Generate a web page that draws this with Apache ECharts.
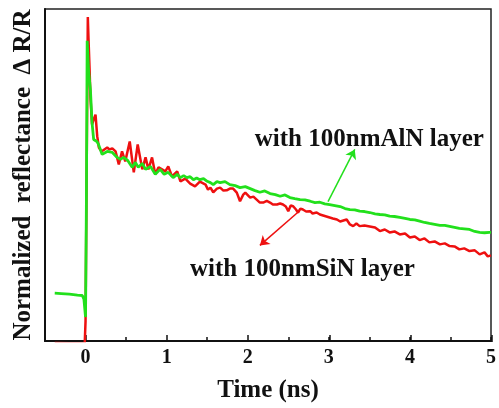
<!DOCTYPE html>
<html>
<head>
<meta charset="utf-8">
<script src="https://cdn.jsdelivr.net/npm/echarts@6/dist/echarts.min.js"></script>
<style>
  html, body { margin: 0; padding: 0; background: #fff; }
  #chart { width: 499px; height: 408px; }
</style>
</head>
<body>
<div id="chart"></div>
<script>
// Transient reflectance traces (normalized ΔR/R) versus delay time in ns
const sinTime = [-0.38,-0.20,-0.01,0.00,0.028,0.037,0.05,0.06,0.08,0.10,0.123,0.144,0.164,0.197,0.22,0.267,0.295,0.33,0.37,0.41,0.45,0.49,0.545,0.595,0.643,0.70,0.74,0.775,0.82,0.86,0.90,0.943,0.984,1.02,1.066,1.13,1.17,1.23,1.29,1.35,1.41,1.48,1.51,1.54,1.575,1.62,1.66,1.70,1.74,1.78,1.82,1.865,1.905,1.945,1.97,2.03,2.07,2.11,2.15,2.19,2.235,2.275,2.31,2.36,2.40,2.435,2.47,2.50,2.53,2.56,2.595,2.62,2.65,2.68,2.72,2.77,2.80,2.85,2.89,2.93,2.97,3.01,3.05,3.10,3.14,3.16,3.22,3.26,3.30,3.34,3.38,3.44,3.505,3.57,3.63,3.69,3.75,3.81,3.875,3.94,4.00,4.06,4.12,4.18,4.24,4.305,4.37,4.43,4.49,4.55,4.61,4.67,4.735,4.80,4.86,4.92,4.96,5.00];
const sinValue = [-0.006,-0.007,-0.006,0.060,0.976,0.907,0.817,0.736,0.652,0.667,0.682,0.617,0.583,0.571,0.571,0.583,0.577,0.580,0.571,0.532,0.571,0.541,0.601,0.508,0.592,0.517,0.553,0.517,0.553,0.502,0.523,0.517,0.511,0.526,0.496,0.511,0.481,0.489,0.474,0.466,0.480,0.471,0.456,0.462,0.448,0.459,0.462,0.453,0.454,0.459,0.459,0.447,0.421,0.441,0.447,0.432,0.435,0.426,0.417,0.417,0.422,0.417,0.411,0.411,0.414,0.411,0.405,0.391,0.408,0.406,0.396,0.387,0.399,0.396,0.390,0.391,0.384,0.387,0.381,0.378,0.375,0.372,0.369,0.366,0.360,0.354,0.366,0.351,0.346,0.354,0.346,0.348,0.345,0.342,0.331,0.336,0.327,0.330,0.321,0.324,0.312,0.315,0.304,0.309,0.297,0.300,0.291,0.294,0.286,0.285,0.276,0.279,0.271,0.273,0.261,0.267,0.255,0.258];

const alnTime = [-0.38,-0.30,-0.20,-0.10,-0.04,-0.02,0.00,0.01,0.02,0.037,0.06,0.08,0.10,0.14,0.16,0.205,0.22,0.267,0.33,0.39,0.43,0.47,0.52,0.575,0.615,0.65,0.70,0.74,0.80,0.86,0.92,0.97,1.02,1.08,1.13,1.17,1.21,1.25,1.29,1.33,1.37,1.41,1.455,1.50,1.54,1.575,1.62,1.66,1.72,1.78,1.845,1.905,1.97,2.03,2.09,2.15,2.21,2.275,2.34,2.40,2.46,2.52,2.58,2.645,2.705,2.77,2.83,2.89,2.95,3.01,3.075,3.14,3.20,3.26,3.32,3.38,3.44,3.505,3.57,3.63,3.69,3.75,3.81,3.875,3.94,4.00,4.06,4.12,4.18,4.24,4.305,4.37,4.43,4.49,4.55,4.61,4.67,4.735,4.80,4.86,4.92,4.98,5.00];
const alnValue = [0.144,0.143,0.141,0.138,0.137,0.126,0.072,0.400,0.904,0.817,0.757,0.658,0.607,0.601,0.592,0.562,0.556,0.571,0.568,0.553,0.547,0.553,0.544,0.523,0.538,0.523,0.535,0.517,0.526,0.502,0.517,0.502,0.508,0.492,0.502,0.492,0.498,0.492,0.495,0.486,0.491,0.486,0.489,0.481,0.477,0.471,0.480,0.477,0.480,0.471,0.468,0.462,0.465,0.459,0.453,0.448,0.452,0.444,0.441,0.436,0.440,0.432,0.429,0.426,0.425,0.421,0.417,0.418,0.413,0.411,0.408,0.405,0.399,0.396,0.395,0.391,0.390,0.387,0.383,0.381,0.380,0.376,0.375,0.372,0.369,0.366,0.365,0.361,0.357,0.354,0.351,0.348,0.348,0.345,0.342,0.339,0.338,0.336,0.330,0.327,0.326,0.327,0.327];

const xTickLabels = ['0', '1', '2', '3', '4', '5'];
const annotationText = ['with 100nmAlN layer', 'with 100nmSiN layer'];
const alnLabelAt = [3.50, 0.607];
const sinLabelAt = [2.675, 0.216];
const alnArrow = [[2.99, 0.420], [3.32, 0.577]];
const sinArrow = [[2.63, 0.390], [2.15, 0.288]];

const X_MIN = -0.5, X_MAX = 5;
const GRID_LEFT = 45, GRID_RIGHT = 7, GRID_TOP = 9, GRID_BOTTOM = 66;
const CHART_W = 499;
const plotW = CHART_W - GRID_LEFT - GRID_RIGHT;
// second grid starts at t = 0 so the integer ticks can be longer
const majorLeft = GRID_LEFT + plotW * (0 - X_MIN) / (X_MAX - X_MIN);

const FONT = '"Liberation Serif", "Times New Roman", serif';
const RED = '#ee1010';
const GREEN = '#22e01c';

const chart = echarts.init(document.getElementById('chart'), null, { renderer: 'canvas' });

function pairs(t, v) { return t.map((x, i) => [x, v[i]]); }

function annotation(text, at) {
  return {
    coord: at,
    symbol: 'circle',
    symbolSize: 0,
    label: {
      show: true, position: 'inside', formatter: text,
      fontFamily: FONT, fontWeight: 'bold', fontSize: 25, color: '#111'
    }
  };
}

chart.setOption({
  animation: false,
  backgroundColor: '#fff',
  grid: [
    { left: GRID_LEFT, right: GRID_RIGHT, top: GRID_TOP, bottom: GRID_BOTTOM,
      show: true, borderColor: '#222', borderWidth: 1.5, backgroundColor: 'transparent' },
    { left: majorLeft, right: GRID_RIGHT, top: GRID_TOP, bottom: GRID_BOTTOM, show: false }
  ],
  xAxis: [
    {
      type: 'value', gridIndex: 0, min: X_MIN, max: X_MAX, interval: 0.5,
      name: 'Time (ns)', nameLocation: 'middle', nameGap: 37,
      nameTextStyle: { fontFamily: FONT, fontWeight: 'bold', fontSize: 25, color: '#111' },
      axisLine: { onZero: false, lineStyle: { color: '#111', width: 2 } },
      axisTick: { inside: true, length: 4, lineStyle: { color: '#111', width: 1.5 } },
      axisLabel: {
        margin: 7, fontFamily: FONT, fontWeight: 'bold', fontSize: 20, color: '#111',
        formatter: v => (Number.isInteger(v) && v >= 0 ? xTickLabels[v] : '')
      },
      splitLine: { show: false }
    },
    {
      type: 'value', gridIndex: 1, min: 0, max: X_MAX, interval: 1,
      axisLine: { show: false, onZero: false },
      axisTick: { inside: true, length: 7, lineStyle: { color: '#111', width: 1.5 } },
      axisLabel: { show: false },
      splitLine: { show: false }
    }
  ],
  yAxis: [
    {
      type: 'value', gridIndex: 0, min: 0, max: 1,
      name: 'Normalized  reflectance  Δ R/R', nameLocation: 'middle', nameGap: 9,
      nameTextStyle: { fontFamily: FONT, fontWeight: 'bold', fontSize: 25, color: '#111' },
      axisLine: { show: true, onZero: false, lineStyle: { color: '#111', width: 2 } },
      axisTick: { show: false },
      axisLabel: { show: false },
      splitLine: { show: false }
    },
    {
      type: 'value', gridIndex: 1, min: 0, max: 1, show: false,
      axisLine: { show: false, onZero: false }
    }
  ],
  series: [
    {
      name: 'SiN', type: 'line', xAxisIndex: 0, yAxisIndex: 0,
      data: pairs(sinTime, sinValue), showSymbol: false, symbol: 'none',
      lineStyle: { color: RED, width: 2.5 },
      markPoint: { data: [annotation(annotationText[1], sinLabelAt)] },
      markLine: {
        silent: true, symbol: ['none', 'arrow'], symbolSize: 9,
        lineStyle: { color: RED, width: 1.5, type: 'solid' }, label: { show: false },
        data: [[{ coord: sinArrow[0] }, { coord: sinArrow[1] }]]
      }
    },
    {
      name: 'AlN', type: 'line', xAxisIndex: 0, yAxisIndex: 0,
      data: pairs(alnTime, alnValue), showSymbol: false, symbol: 'none',
      lineStyle: { color: GREEN, width: 2.8 },
      markPoint: { data: [annotation(annotationText[0], alnLabelAt)] },
      markLine: {
        silent: true, symbol: ['none', 'arrow'], symbolSize: 9,
        lineStyle: { color: GREEN, width: 1.5, type: 'solid' }, label: { show: false },
        data: [[{ coord: alnArrow[0] }, { coord: alnArrow[1] }]]
      }
    }
  ]
});
</script>
</body>
</html>
